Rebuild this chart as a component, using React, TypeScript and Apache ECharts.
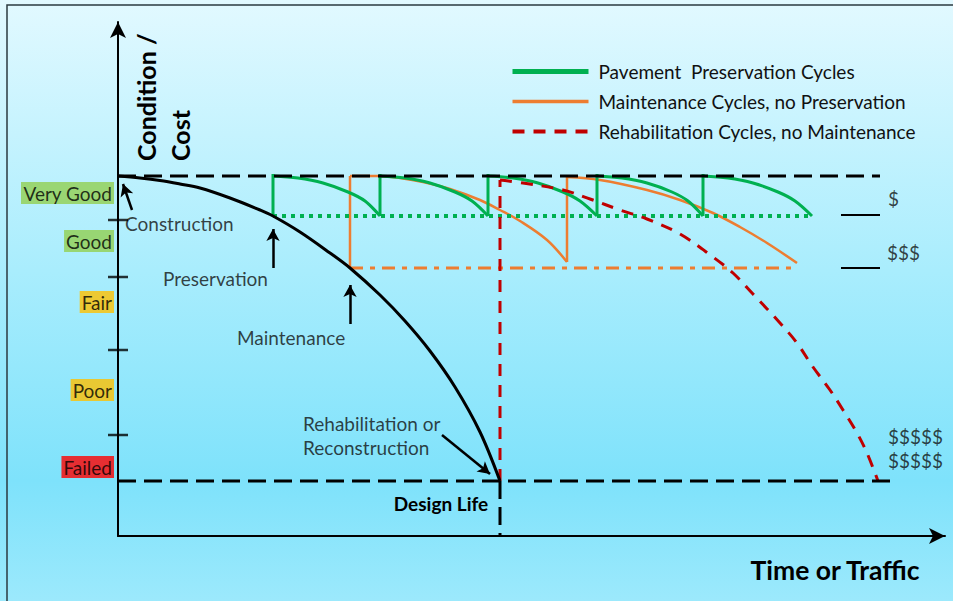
import React, { useEffect, useRef } from "react";
import * as echarts from "echarts";

// Coordinates: x = time/traffic units, y = condition units (0 = bottom of axis)
const constructionCurve: [number, number][] = [
  [0, 360], [22, 358], [42, 355.5], [62, 352], [82, 348], [112, 338], [142, 326], [155, 320],
  [182, 304], [212, 283], [232, 268], [262, 241], [287, 215], [312, 185], [337, 149], [362, 104], [382, 55],
];

const preservationCurves: [number, number][][] = [
  [[155, 360], [180, 358], [205, 353], [230, 344], [247, 335], [262, 320]],
  [[262, 360], [287, 358], [312, 353], [337, 344], [354, 335], [370, 320]],
  [[370, 360], [395, 358], [420, 353], [445, 344], [462, 335], [479, 320]],
  [[479, 360], [504, 358], [529, 353], [554, 344], [570, 335], [585, 320]],
  [[585, 360], [610, 358], [635, 353], [660, 344], [677, 335], [694, 320]],
];
const preservationJumps: [number, number][][] = [
  [[155, 320], [155, 362]],
  [[262, 320], [262, 362]],
  [[370, 320], [370, 362]],
  [[479, 320], [479, 362]],
  [[585, 320], [585, 362]],
];

const maintenanceCurves: [number, number][][] = [
  [[232, 360], [262, 360], [282, 358], [305, 354], [332, 347], [362, 336], [382, 326], [402, 315], [429, 296], [449, 274]],
  [[449, 359], [482, 356], [529, 346], [562, 336], [595, 323], [622, 309], [649, 293], [679, 273]],
];
const maintenanceJumps: [number, number][][] = [
  [[232, 268], [232, 360]],
  [[449, 274], [449, 359]],
];

const rehabilitationCurves: [number, number][][] = [
  [[382, 356], [405, 353], [445, 346], [472, 337], [502, 326], [529, 317], [562, 302],
    [595, 279], [615, 263], [635, 242], [662, 213], [679, 193], [695, 169], [712, 146], [725, 126],
    [739, 103], [749, 83], [760, 55]],
];
const rehabilitationJumps: [number, number][][] = [
  [[382, 55], [382, 356]],
];

const veryGoodLine: [number, number][] = [[0, 360], [762, 360]];
const failedLine: [number, number][] = [[0, 55], [777, 55]];
const designLifeLine: [number, number][] = [[382, 55], [382, 0]];
const preservationLevel: [number, number][] = [[155, 320], [694, 320]];
const maintenanceLevel: [number, number][] = [[232, 268], [679, 268]];
const costLevelOne: [number, number][] = [[723, 321], [762, 321]];
const costLevelThree: [number, number][] = [[723, 268], [762, 268]];

const conditionTicks = [316, 259, 186, 101];
const conditionLevels = ["Very Good", "Good", "Fair", "Poor", "Failed"];
const conditionLevelY = [343, 295, 234, 146, 69];
const conditionLevelColors = ["#92D050", "#92D050", "#FFC000", "#FFC000", "#FF0000"];

const costLabels = ["$", "$$$", "$$$$$", "$$$$$"];
const costLabelPos: [number, number][] = [[770, 338], [769, 284], [770, 100], [770, 76]];

const annotationTexts = ["Construction", "Preservation", "Maintenance", "Rehabilitation or\nReconstruction"];
const annotationPos: [number, number][] = [[7, 313], [45, 258], [119, 199], [185, 101]];

const arrows: [[number, number], [number, number]][] = [
  [[14, 326], [5, 352]],
  [[155, 268], [155, 307]],
  [[232, 212], [232, 251]],
  [[324, 101], [372, 62]],
];

const seriesNames = [
  "Pavement  Preservation Cycles",
  "Maintenance Cycles, no Preservation",
  "Rehabilitation Cycles, no Maintenance",
];

const FONT = "Lato, 'Open Sans', sans-serif";

export default function App() {
  const ref = useRef<HTMLDivElement>(null);
  useEffect(() => {
    if (!ref.current) return;
    const chart = echarts.init(ref.current, undefined, { renderer: "svg" });
    const dashedBlack = (name: string, data: [number, number][]) => ({
      name,
      type: "line",
      data,
      symbol: "none",
      silent: true,
      z: 6,
      lineStyle: { color: "#000", width: 3, type: [18, 8] },
    });
    const cycleSeries = (
      name: string,
      curves: [number, number][][],
      jumps: [number, number][][],
      lineStyle: any,
      z: number
    ) => [
      ...curves.map((d) => ({
        name,
        type: "line",
        data: d,
        symbol: "none",
        smooth: 0.35,
        z,
        lineStyle,
        itemStyle: { color: lineStyle.color },
      })),
      ...jumps.map((d) => ({
        name,
        type: "line",
        data: d,
        symbol: "none",
        z,
        lineStyle,
        itemStyle: { color: lineStyle.color },
      })),
    ];
    const option: any = {
      animation: false,
      backgroundColor: {
        type: "linear",
        x: 0, y: 0, x2: 0, y2: 1,
        colorStops: [
          { offset: 0, color: "#e2f9ff" },
          { offset: 0.45, color: "#a9edfd" },
          { offset: 0.8, color: "#7ee2fb" },
          { offset: 1, color: "#9ce9fc" },
        ],
      },
      textStyle: { fontFamily: FONT },
      grid: { left: 118, top: 22, width: 827, height: 514, containLabel: false },
      xAxis: {
        type: "value",
        min: 0,
        max: 827,
        axisLine: { show: true, lineStyle: { color: "#000", width: 2 }, symbol: ["none", "arrow"], symbolSize: [12, 16] },
        axisTick: { show: false },
        axisLabel: { show: false },
        splitLine: { show: false },
      },
      yAxis: {
        type: "value",
        min: 0,
        max: 514,
        axisLine: { show: true, lineStyle: { color: "#000", width: 2 }, symbol: ["none", "arrow"], symbolSize: [12, 16] },
        axisTick: { show: false },
        axisLabel: { show: false },
        splitLine: { show: false },
      },
      legend: {
        orient: "vertical",
        left: 510,
        top: 62,
        padding: 0,
        itemWidth: 76,
        itemHeight: 14,
        itemGap: 11,
        selectedMode: false,
        itemStyle: { opacity: 0 },
        textStyle: { fontFamily: FONT, fontSize: 19, color: "#111", padding: [0, 0, 0, 5] },
        data: [
          { name: seriesNames[0], lineStyle: { width: 5 } },
          { name: seriesNames[1], lineStyle: { width: 3.5 } },
          { name: seriesNames[2], lineStyle: { width: 4 } },
        ],
      },
      graphic: [
        {
          type: "rect",
          shape: { x: 7, y: 5, width: 960, height: 620 },
          style: { fill: "none", stroke: "#2b3a40", lineWidth: 1.5 },
          silent: true,
        },
        {
          type: "text",
          x: 146, y: 161, rotation: Math.PI / 2,
          style: { text: "Condition /", font: `bold 25px ${FONT}`, fill: "#000", align: "left", verticalAlign: "middle" },
        },
        {
          type: "text",
          x: 180, y: 161, rotation: Math.PI / 2,
          style: { text: "Cost", font: `bold 25px ${FONT}`, fill: "#000", align: "left", verticalAlign: "middle" },
        },
        {
          type: "text",
          x: 835, y: 570,
          style: { text: "Time or Traffic", font: `bold 26.5px ${FONT}`, fill: "#000", align: "center", verticalAlign: "middle" },
        },
        {
          type: "text",
          x: 441, y: 503,
          style: { text: "Design Life", font: `bold 19px ${FONT}`, fill: "#000", align: "center", verticalAlign: "middle" },
        },
      ],
      series: [
        ...cycleSeries(seriesNames[1], maintenanceCurves, maintenanceJumps, { color: "#ED7D31", width: 2.5 }, 3),
        {
          name: "maintenanceLevel",
          type: "line",
          data: maintenanceLevel,
          symbol: "none",
          z: 3,
          lineStyle: { color: "#ED7D31", width: 3, type: [13, 7, 5, 7] },
        },
        {
          name: "preservationLevel",
          type: "line",
          data: preservationLevel,
          symbol: "none",
          z: 4,
          lineStyle: { color: "#00B050", width: 4, type: [4, 5] },
        },
        ...cycleSeries(seriesNames[0], preservationCurves, preservationJumps, { color: "#00B050", width: 3 }, 4),
        ...cycleSeries(seriesNames[2], rehabilitationCurves, rehabilitationJumps, { color: "#C00000", width: 3, type: [12, 9] }, 5),
        {
          name: "construction",
          type: "line",
          data: constructionCurve,
          symbol: "none",
          smooth: 0.35,
          z: 5,
          lineStyle: { color: "#000", width: 3 },
        },
        dashedBlack("veryGood", veryGoodLine),
        dashedBlack("failed", failedLine),
        dashedBlack("designLife", designLifeLine),
        {
          name: "costOne",
          type: "line",
          data: costLevelOne,
          symbol: "none",
          lineStyle: { color: "#000", width: 2 },
        },
        {
          name: "costThree",
          type: "line",
          data: costLevelThree,
          symbol: "none",
          lineStyle: { color: "#000", width: 2 },
        },
        {
          name: "ticks",
          type: "scatter",
          data: conditionTicks.map((v) => [0, v]),
          symbol: "rect",
          symbolSize: [20, 2.5],
          itemStyle: { color: "#000" },
          z: 6,
        },
        {
          name: "levels",
          type: "scatter",
          data: conditionLevels.map((n, i) => ({
            value: [0, conditionLevelY[i]],
            label: { backgroundColor: conditionLevelColors[i] },
            name: n,
          })),
          symbolSize: 0,
          label: {
            show: true,
            position: "left",
            distance: 4,
            formatter: (p: any) => p.name,
            fontFamily: FONT,
            fontSize: 19,
            color: "#000",
            padding: [2, 2, 1, 2],
          },
        },
        {
          name: "costs",
          type: "scatter",
          data: costLabels.map((n, i) => ({ value: costLabelPos[i], name: n })),
          symbolSize: 0,
          label: {
            show: true,
            position: "right",
            distance: 0,
            formatter: (p: any) => p.name,
            fontFamily: FONT,
            fontSize: 19,
            color: "#111",
          },
        },
        {
          name: "annotations",
          type: "scatter",
          data: annotationTexts.map((n, i) => ({ value: annotationPos[i], name: n })),
          symbolSize: 0,
          label: {
            show: true,
            position: "right",
            distance: 0,
            formatter: (p: any) => p.name,
            fontFamily: FONT,
            fontSize: 19,
            lineHeight: 24,
            color: "#111",
          },
        },
        {
          name: "arrows",
          type: "line",
          data: [],
          markLine: {
            silent: true,
            symbol: ["none", "arrow"],
            symbolSize: [10, 12],
            label: { show: false },
            lineStyle: { color: "#000", width: 2.5, type: "solid" },
            data: arrows.map(([a, b]) => [{ coord: a }, { coord: b }]),
          },
        },
      ],
    };
    chart.setOption(option);
    return () => chart.dispose();
  }, []);
  return <div ref={ref} style={{ position: "absolute", left: 0, top: 0, width: 953, height: 601 }} />;
}
